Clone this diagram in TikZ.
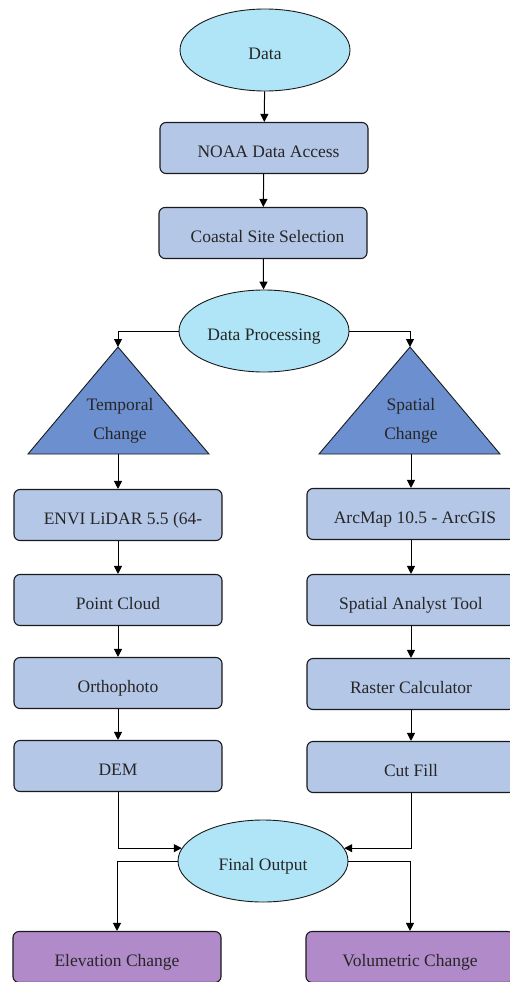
\documentclass[tikz,border=0pt]{standalone}
\usepackage{fontspec}
\setmainfont{Liberation Serif}
\usetikzlibrary{shapes.geometric,arrows.meta}
\definecolor{ellc}{HTML}{AFE5F7}
\definecolor{boxc}{HTML}{B4C7E7}
\definecolor{tric}{HTML}{6C8FCF}
\definecolor{purc}{HTML}{B18BC9}
\definecolor{edge}{HTML}{1A1A1A}
\begin{document}
\begin{tikzpicture}[x=1pt,y=-1pt,
  every node/.style={font=\fontsize{17.5}{20}\selectfont, text=black!85},
  lowtext/.style={text height=19pt,text depth=0pt},
  ell/.style={ellipse,draw=edge,fill=ellc,minimum width=170pt,minimum height=82pt,inner sep=0pt,line width=0.9pt,lowtext},
  box/.style={draw=edge,fill=boxc,rounded corners=6pt,minimum width=208pt,minimum height=51pt,inner sep=0pt,line width=1.1pt,lowtext},
  outbox/.style={box,fill=purc},
  tri/.style={draw=edge,fill=tric,line width=0.9pt,line join=miter},
  tritext/.style={align=center,font=\fontsize{17.5}{29}\selectfont},
  arr/.style={draw=black,line width=1pt,-{Triangle[length=8pt,width=8pt]}}]
\useasboundingbox (0,0) rectangle (510,982);
\fill[white] (0,0) rectangle (510,982);

% top column
\node[ell] (data) at (265,50) {Data};
\node[box] (noaa) at (264,148) {\hspace*{9pt}NOAA Data Access};
\node[box] (coast) at (263,233) {\hspace*{9pt}Coastal Site Selection};
\node[ell] (proc) at (264,331) {Data Processing};

% triangles
\coordinate (apexL) at (118,347);
\coordinate (baseL) at (118,454);
\coordinate (apexR) at (410,347);
\coordinate (baseR) at (411,454);
\path[tri] (apexL) -- (209,454) -- (28,454) -- cycle;
\path[tri] (apexR) -- (500,454) -- (319,454) -- cycle;
\node[tritext] (temp) at (120,421) {Temporal\\Change};
\node[tritext] (spat) at (411,421) {Spatial\\Change};

% left column
\node[box] (envi) at (118,515) {\hspace*{10pt}ENVI LiDAR 5.5 (64-};
\node[box] (pc) at (118,600) {Point Cloud};
\node[box] (ortho) at (118,683) {Orthophoto};
\node[box] (dem) at (118,766) {DEM};

% right column
\node[box] (arc) at (411,514) {\hspace*{8pt}ArcMap 10.5 - ArcGIS};
\node[box] (sat) at (411,600) {Spatial Analyst Tool};
\node[box] (rc) at (411,684) {Raster Calculator};
\node[box] (cf) at (411,767) {Cut Fill};

% final
\node[ell] (final) at (263,861) {Final Output};
\node[outbox] (elev) at (117,957) {Elevation Change};
\node[outbox] (vol) at (410,957) {Volumetric Change};

% connectors
\draw[arr] (data) -- (noaa);
\draw[arr] (noaa) -- (coast);
\draw[arr] (coast) -- (proc);
\draw[arr] (proc.west) -| (apexL);
\draw[arr] (proc.east) -| (apexR);
\draw[arr] (baseL) -- (envi.north -| baseL);
\draw[arr] (baseR) -- (arc.north -| baseR);
\draw[arr] (envi) -- (pc);
\draw[arr] (pc) -- (ortho);
\draw[arr] (ortho) -- (dem);
\draw[arr] (arc) -- (sat);
\draw[arr] (sat) -- (rc);
\draw[arr] (rc) -- (cf);
\draw[arr] (dem.south) |- (final.171);
\draw[arr] (cf.south) |- (final.9);
\draw[arr] (final.west) -| (elev.north);
\draw[arr] (final.east) -| (vol.north);
\end{tikzpicture}
\end{document}
